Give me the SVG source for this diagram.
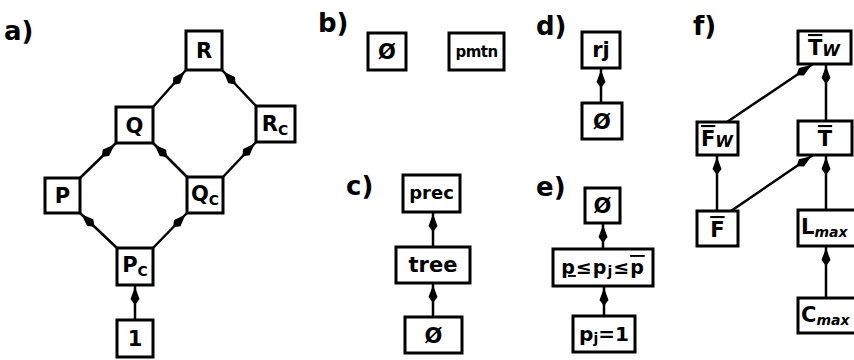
<svg xmlns="http://www.w3.org/2000/svg" width="854" height="360" viewBox="0 0 854 360">
<style>
.box{fill:#fff;stroke:#000;stroke-width:3}
.t{font-family:"DejaVu Sans",sans-serif;font-weight:bold;font-size:21px;text-anchor:middle;fill:#000}
.lab{font-family:"DejaVu Sans",sans-serif;font-weight:bold;font-size:26px;fill:#000}
.e{stroke:#000;stroke-width:2.5;fill:none;marker-end:url(#ah)}
.sub{font-size:14px}
.ov{text-decoration:overline}
.un{text-decoration:underline}
</style>
<defs>
<marker id="ah" viewBox="0 0 18 10" markerWidth="18" markerHeight="10" refX="20" refY="5" orient="auto" markerUnits="userSpaceOnUse" overflow="visible">
<path d="M18,5 L6,0.5 L0,5 L6,9.5 Z" fill="#000"/>
</marker>
</defs>
<rect width="854" height="360" fill="#fff"/>
<g id="panel-labels">
<text class="lab" x="4" y="40">a)</text>
<text class="lab" x="318" y="32">b)</text>
<text class="lab" x="346" y="195">c)</text>
<text class="lab" x="536" y="35">d)</text>
<text class="lab" x="536" y="196">e)</text>
<text class="lab" x="693" y="35">f)</text>
</g>
<g id="connectors">
<line class="e" x1="135" y1="320" x2="135" y2="285"/>
<line class="e" x1="117" y1="248" x2="80" y2="213"/>
<line class="e" x1="153" y1="248" x2="187" y2="213"/>
<line class="e" x1="80" y1="178" x2="116" y2="143"/>
<line class="e" x1="187" y1="177" x2="153" y2="143"/>
<line class="e" x1="223" y1="177" x2="256" y2="142"/>
<line class="e" x1="153" y1="107" x2="186" y2="70"/>
<line class="e" x1="256" y1="106" x2="222" y2="70"/>
<line class="e" x1="433" y1="317" x2="433" y2="283"/>
<line class="e" x1="433" y1="247" x2="433" y2="212"/>
<line class="e" x1="601" y1="103" x2="601" y2="68"/>
<line class="e" x1="604" y1="316" x2="604" y2="286"/>
<line class="e" x1="603" y1="249" x2="603" y2="223"/>
<line class="e" x1="717" y1="211" x2="717" y2="155"/>
<line class="e" x1="826" y1="210" x2="826" y2="155"/>
<line class="e" x1="826" y1="121" x2="826" y2="64"/>
<line class="e" x1="826" y1="298" x2="826" y2="246"/>
<line class="e" x1="727" y1="122" x2="813" y2="64"/>
<line class="e" x1="731" y1="211" x2="813" y2="155"/>
</g>
<g id="a-R"><rect class="box" x="186" y="31" width="36" height="39"/><text class="t" x="204" y="58">R</text></g>
<g id="a-Q"><rect class="box" x="116" y="107" width="37" height="36"/><text class="t" x="134.5" y="133">Q</text></g>
<g id="a-Rc"><rect class="box" x="256" y="106" width="39" height="36"/><text class="t" x="275" y="131">R<tspan class="sub" dy="4">C</tspan></text></g>
<g id="a-P"><rect class="box" x="45" y="178" width="35" height="35"/><text class="t" x="62.5" y="203">P</text></g>
<g id="a-Qc"><rect class="box" x="187" y="177" width="36" height="36"/><text class="t" x="205" y="201">Q<tspan class="sub" dy="4">C</tspan></text></g>
<g id="a-Pc"><rect class="box" x="117" y="248" width="36" height="37"/><text class="t" x="135" y="272">P<tspan class="sub" dy="4">C</tspan></text></g>
<g id="a-1"><rect class="box" x="117" y="320" width="36" height="37"/><text class="t" x="135" y="346">1</text></g>
<g id="b-empty"><rect class="box" x="368" y="33" width="38" height="37"/><text class="t" x="387" y="59">Ø</text></g>
<g id="b-pmtn"><rect class="box" x="449" y="33" width="55" height="37"/><text class="t" x="476.5" y="57" style="font-size:15px;letter-spacing:-0.5px">pmtn</text></g>
<g id="c-prec"><rect class="box" x="403" y="175" width="57" height="37"/><text class="t" x="431.5" y="199" style="font-size:18px">prec</text></g>
<g id="c-tree"><rect class="box" x="396" y="247" width="74" height="36"/><text class="t" x="433" y="272" style="font-size:21px">tree</text></g>
<g id="c-empty"><rect class="box" x="405" y="317" width="57" height="36"/><text class="t" x="433.5" y="343">Ø</text></g>
<g id="d-rj"><rect class="box" x="582" y="32" width="38" height="36"/><text class="t" x="601" y="57">rj</text></g>
<g id="d-empty"><rect class="box" x="582" y="103" width="40" height="36"/><text class="t" x="602" y="129">Ø</text></g>
<g id="e-empty"><rect class="box" x="585" y="188" width="35" height="35"/><text class="t" x="602.5" y="213">Ø</text></g>
<g id="e-ineq"><rect class="box" x="553" y="249" width="100" height="37"/><text class="t" x="603" y="274" style="font-size:19px;letter-spacing:1px"><tspan class="un">p</tspan>≤p<tspan class="sub" dy="2">j</tspan><tspan dy="-2">≤</tspan><tspan class="ov">p</tspan></text></g>
<g id="e-pj1"><rect class="box" x="573" y="316" width="62" height="36"/><text class="t" x="604" y="341" style="font-size:20px">p<tspan class="sub" dy="2">j</tspan><tspan dy="-2">=1</tspan></text></g>
<g id="f-Tw"><rect class="box" x="798" y="31" width="53" height="33"/><text class="t" x="824" y="55"><tspan class="ov">T</tspan><tspan class="sub" dy="1" style="font-size:16px;font-style:italic">W</tspan></text></g>
<g id="f-Fw"><rect class="box" x="697" y="122" width="41" height="33"/><text class="t" x="717" y="146"><tspan class="ov">F</tspan><tspan class="sub" dy="1" style="font-size:16px;font-style:italic">W</tspan></text></g>
<g id="f-T"><rect class="box" x="798" y="121" width="54" height="34"/><text class="t" x="825" y="146"><tspan class="ov">T</tspan></text></g>
<g id="f-F"><rect class="box" x="697" y="211" width="41" height="35"/><text class="t" x="717.5" y="237"><tspan class="ov">F</tspan></text></g>
<g id="f-Lmax"><rect class="box" x="798" y="210" width="60" height="36"/><text class="t" x="801" y="234" style="text-anchor:start">L<tspan class="sub" dy="3" style="font-style:italic">max</tspan></text></g>
<g id="f-Cmax"><rect class="box" x="798" y="298" width="60" height="35"/><text class="t" x="801" y="322" style="text-anchor:start">C<tspan class="sub" dy="3" style="font-style:italic">max</tspan></text></g>
</svg>
